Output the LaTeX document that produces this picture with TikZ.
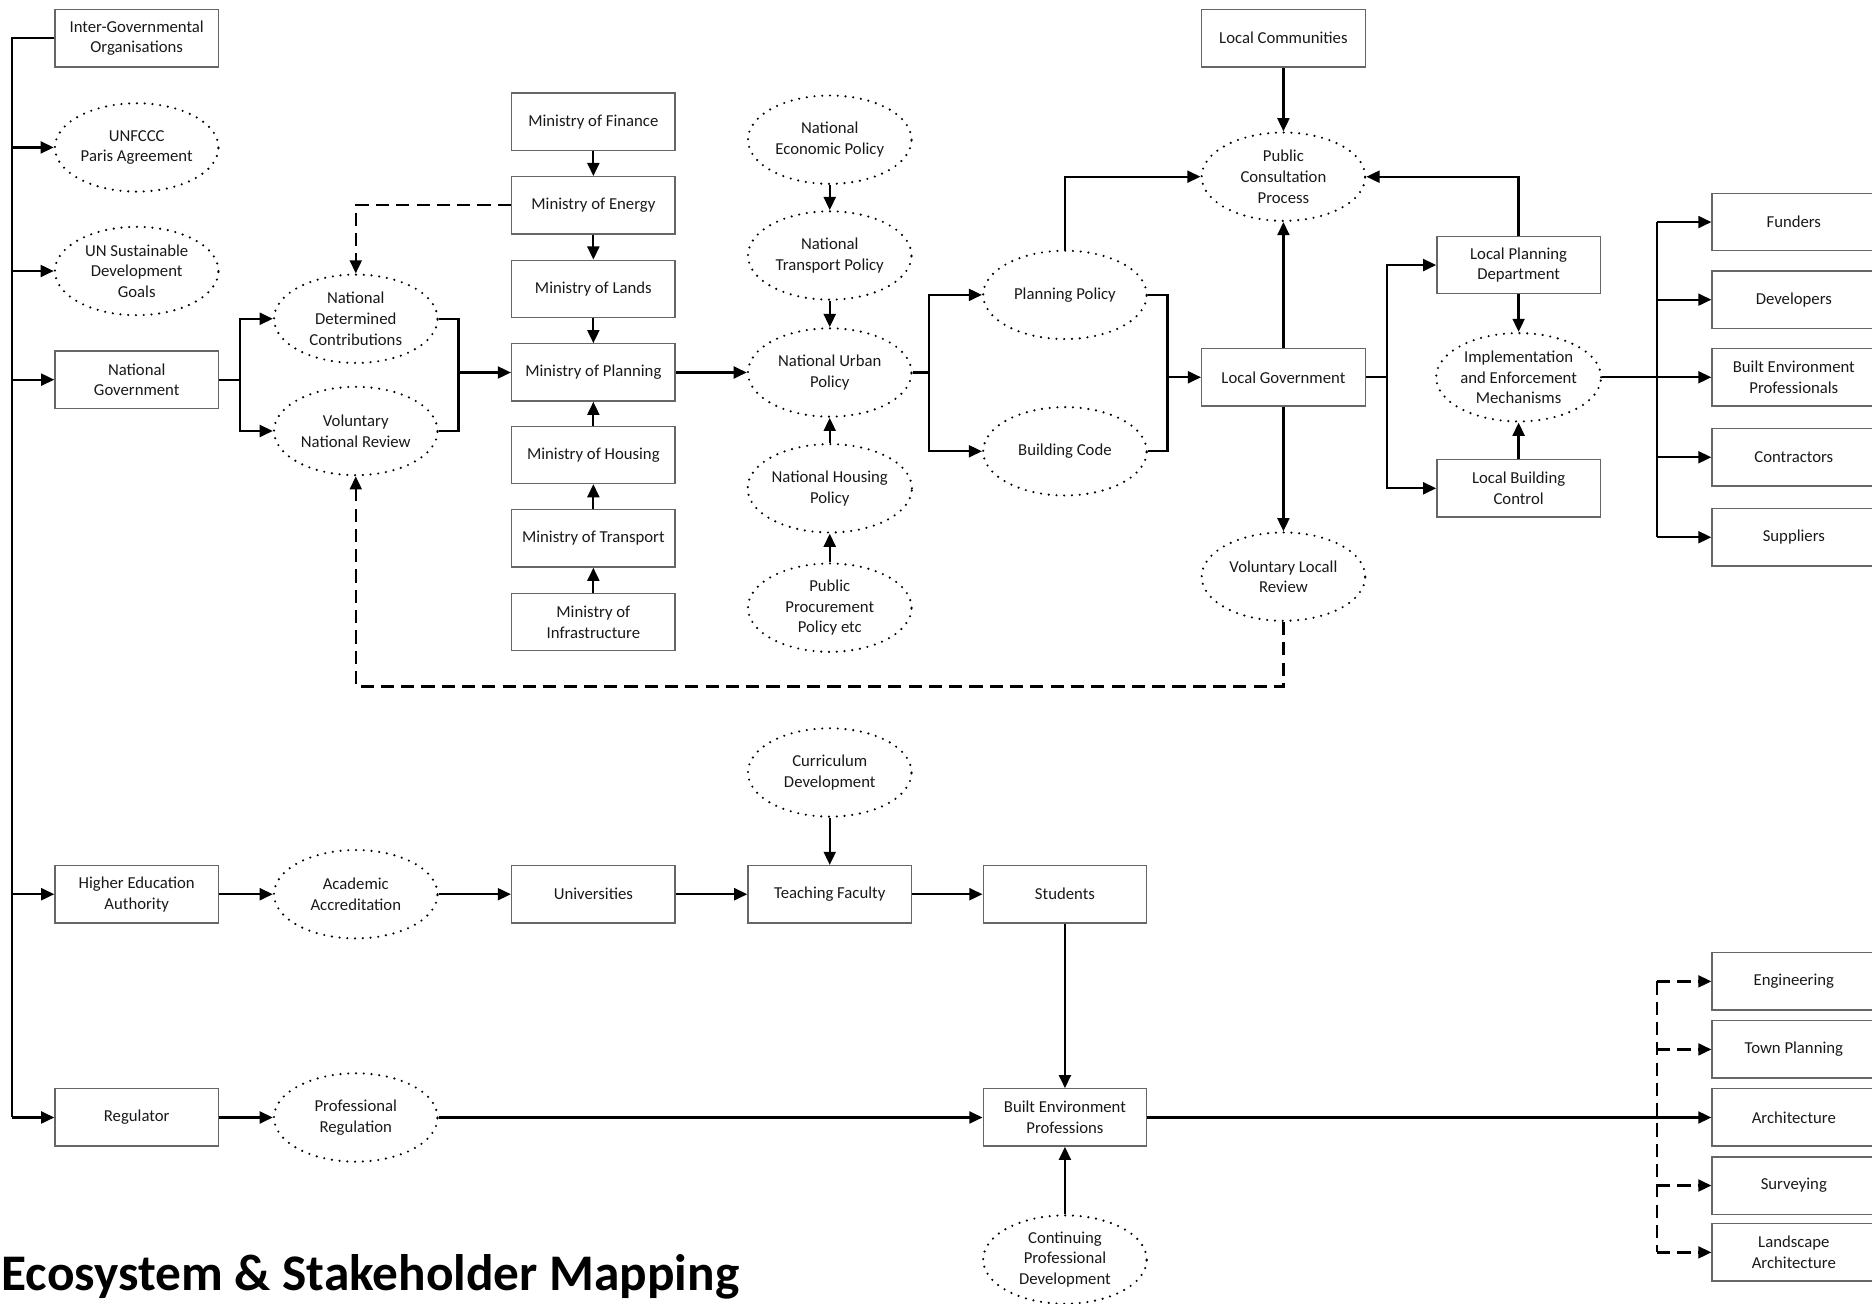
\documentclass[tikz,border=0pt]{standalone}
\usepackage{fontspec}
\setmainfont{Carlito}
\usetikzlibrary{shapes.geometric,arrows.meta}
\begin{document}
\begin{tikzpicture}[x=1pt,y=-1pt,
  every node/.style={font=\fontsize{14}{17.3}\selectfont, align=center, inner sep=0pt, text=black!90},
  box/.style={draw=black!60, line width=1.1pt, minimum width=137pt, minimum height=48pt},
  oval/.style={ellipse, draw=black, line width=2pt, dash pattern=on 0pt off 6.5pt, line cap=round, minimum width=137pt, minimum height=74pt},
  conn/.style={line width=1.9pt, -{Triangle[length=11pt,width=10pt]}},
  wire/.style={line width=1.9pt},
  dconn/.style={conn, dash pattern=on 11pt off 6pt},
  dwire/.style={wire, dash pattern=on 11pt off 6pt},
]
\useasboundingbox (0,0) rectangle (1568,1092.2);
\clip (0,0) rectangle (1568,1092.2);

% left column
\node[box] (igo) at (114.5,32) {Inter-Governmental\\Organisations};
\node[oval] (unf) at (114.5,123.5) {UNFCCC\\Paris Agreement};
\node[oval] (sdg) at (114.5,227) {UN Sustainable\\Development\\Goals};
\node[box] (ng) at (114.5,318) {National\\Government};
\node[box] (hea) at (114.5,749) {Higher Education\\Authority};
\node[box] (reg) at (114.5,936) {Regulator};
\coordinate (bus) at (10,0);

% column 2
\node[oval] (ndc) at (298,267) {National\\Determined\\Contributions};
\node[oval] (vnr) at (298,361) {Voluntary\\National Review};
\node[oval] (acc) at (298,749) {Academic\\Accreditation};
\node[oval] (preg) at (298,936) {Professional\\Regulation};

% ministries
\node[box] (mfin) at (497,102) {Ministry of Finance};
\node[box] (men) at (497,172) {Ministry of Energy};
\node[box] (mla) at (497,242) {Ministry of Lands};
\node[box] (mpl) at (497,312) {Ministry of Planning};
\node[box] (mho) at (497,381) {Ministry of Housing};
\node[box] (mtr) at (497,451) {Ministry of Transport};
\node[box] (minf) at (497,521) {Ministry of\\Infrastructure};
\node[box] (uni) at (497,749) {Universities};

% policies
\node[oval] (nep) at (695,117) {National\\Economic Policy};
\node[oval] (ntp) at (695,214) {National\\Transport Policy};
\node[oval] (nup) at (695,312) {National Urban\\Policy};
\node[oval] (nhp) at (695,409) {National Housing\\Policy};
\node[oval] (ppp) at (695,509) {Public\\Procurement\\Policy etc};
\node[oval] (cd) at (695,647) {Curriculum\\Development};
\node[box] (tf) at (695,749) {Teaching Faculty};

% column 4
\node[oval] (pp) at (892,247) {Planning Policy};
\node[oval] (bc) at (892,378) {Building Code};
\node[box] (stu) at (892,749) {Students};
\node[box] (bepr) at (892,936) {Built Environment\\Professions};
\node[oval] (cpd) at (892,1055) {Continuing\\Professional\\Development};

% column 5
\node[box] (lc) at (1075,32) {Local Communities};
\node[oval] (pcp) at (1075,148) {Public\\Consultation\\Process};
\node[box] (lg) at (1075,316) {Local Government};
\node[oval] (vlr) at (1075,483) {Voluntary Locall\\Review};

% column 6
\node[box] (lpd) at (1272,222) {Local Planning\\Department};
\node[oval] (iem) at (1272,316) {Implementation\\and Enforcement\\Mechanisms};
\node[box] (lbc) at (1272,409) {Local Building\\Control};

% right column
\node[box] (fun) at (1502.5,186) {Funders};
\node[box] (dev) at (1502.5,251) {Developers};
\node[box] (bep) at (1502.5,316) {Built Environment\\Professionals};
\node[box] (con) at (1502.5,383) {Contractors};
\node[box] (sup) at (1502.5,450) {Suppliers};
\node[box] (eng) at (1502.5,822) {Engineering};
\node[box] (tp) at (1502.5,879) {Town Planning};
\node[box] (arc) at (1502.5,936) {Architecture};
\node[box] (sur) at (1502.5,993) {Surveying};
\node[box] (la) at (1502.5,1049) {Landscape\\Architecture};

% title
\node[anchor=base west, font=\fontsize{43}{50}\selectfont\bfseries, text=black] (title) at (1,1081) {Ecosystem \& Stakeholder Mapping};

% left bus
\draw[wire] (igo.west) -- (igo.west -| bus) -- (reg.west -| bus);
\foreach \n in {unf,sdg,ng,hea,reg} \draw[conn] (\n.west -| bus) -- (\n.west);

% national government branch
\coordinate (b1) at (201,318);
\draw[wire] (ng.east) -- (b1);
\draw[conn] (b1) |- (ndc.west);
\draw[conn] (b1) |- (vnr.west);
\coordinate (b2) at (384,312);
\draw[wire] (ndc.east) -| (b2);
\draw[wire] (vnr.east) -| (b2);
\draw[conn] (b2) -- (mpl.west);

% ministries
\draw[conn] (mfin) -- (men);
\draw[conn] (men) -- (mla);
\draw[conn] (mla) -- (mpl);
\draw[conn] (mho) -- (mpl);
\draw[conn] (mtr) -- (mho);
\draw[conn] (minf) -- (mtr);
\draw[dconn] (men.west) -| (ndc.north);

% policies
\draw[conn] (mpl) -- (nup);
\draw[conn] (nep) -- (ntp);
\draw[conn] (ntp) -- (nup);
\draw[conn] (nhp) -- (nup);
\draw[conn] (ppp) -- (nhp);
\coordinate (b3) at (778,312);
\draw[wire] (nup.east) -- (b3);
\draw[conn] (b3) |- (pp.west);
\draw[conn] (b3) |- (bc.west);
\coordinate (b4) at (978,316);
\draw[wire] (pp.east) -| (b4);
\draw[wire] (bc.east) -| (b4);
\draw[conn] (b4) -- (lg.west);
\draw[conn] (pp.north) |- (pcp.west);

% local level
\draw[conn] (lc) -- (pcp);
\draw[conn] (lg) -- (pcp);
\draw[conn] (lg) -- (vlr);
\coordinate (d1) at (1075,575);
\draw[dconn] (vlr.south) -- (d1) -| (vnr.south);
\coordinate (b5) at (1162,316);
\draw[wire] (lg.east) -- (b5);
\draw[conn] (b5) |- (lpd.west);
\draw[conn] (b5) |- (lbc.west);
\draw[conn] (lpd) -- (iem);
\draw[conn] (lbc) -- (iem);
\draw[conn] (lpd.north) |- (pcp.east);
\coordinate (b6) at (1388,316);
\draw[wire] (iem.east) -- (b6);
\draw[wire] (fun.west -| b6) -- (sup.west -| b6);
\foreach \n in {fun,dev,bep,con,sup} \draw[conn] (\n.west -| b6) -- (\n.west);

% education
\draw[conn] (hea) -- (acc);
\draw[conn] (acc) -- (uni);
\draw[conn] (uni) -- (tf);
\draw[conn] (tf) -- (stu);
\draw[conn] (cd) -- (tf);
\draw[conn] (stu) -- (bepr);
\draw[conn] (reg) -- (preg);
\draw[conn] (preg) -- (bepr);
\draw[conn] (cpd) -- (bepr);

% professions
\coordinate (b7) at (1388,936);
\draw[conn] (bepr.east) -- (arc.west);
\draw[dwire] (eng.west -| b7) -- (la.west -| b7);
\foreach \n in {eng,tp,sur,la} \draw[dconn] (\n.west -| b7) -- (\n.west);
\end{tikzpicture}
\end{document}
